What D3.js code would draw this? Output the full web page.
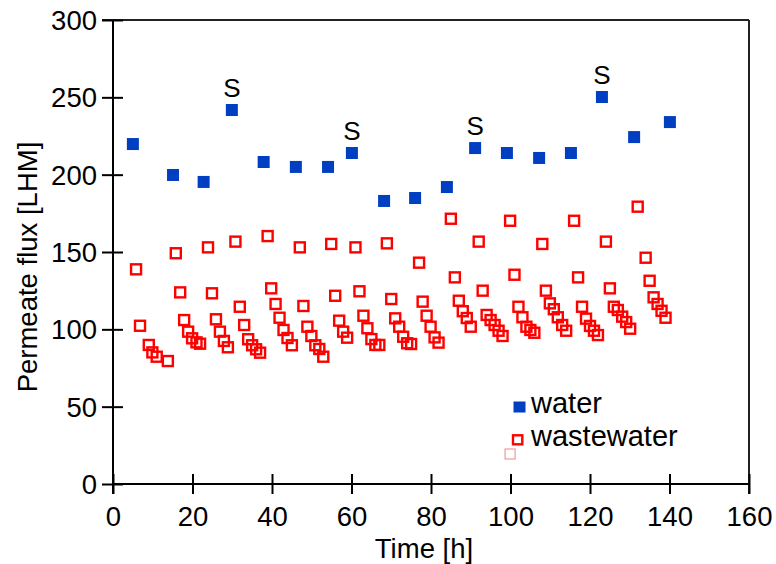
<!DOCTYPE html>
<html><head><meta charset="utf-8">
<script src="https://cdn.jsdelivr.net/npm/d3@7"></script>
<style>body{margin:0;background:#fff}svg{display:block}text{font-family:"Liberation Sans",Arial,sans-serif}</style>
</head><body><svg id="c" width="776" height="564"></svg>
<script>
const xTicks = [0,20,40,60,80,100,120,140,160];
const yTicks = [0,50,100,150,200,250,300];
const waterX = [5,15.1,22.8,29.9,37.9,46,54.1,60.1,68.2,76,84,91.1,99.1,107.2,115.2,123,131.1,140.1];
const waterY = [219.8,199.8,195.3,241.8,208.2,205,205,214,183,184.9,192,217.2,214,210.8,214,250.2,224.3,234];
const sLabelX = [29.9,60.1,91.1,123];
const wwX = [5.8,6.8,9,9.9,11,13.8,15.8,16.9,17.9,18.9,19.9,21,21.9,23.9,24.9,25.9,26.9,27.9,28.9,30.8,31.9,33,34,35,36,37,38.9,39.8,40.9,41.9,42.9,43.9,45,47,47.9,48.9,49.9,50.9,51.9,52.9,54.9,55.9,56.9,57.9,58.9,61,62,63,64,65,66,67,68.9,70,71,72,73,74,75,77,77.9,78.9,79.9,80.9,81.9,85,86,87,88,89,90,92,93,94,95,96,97,98,99.9,101,102,103,104,105,106,108,108.9,109.9,110.9,111.9,113,114,116,117,118,119,120,121,122,124,125,126,127,128.1,129.1,130.1,132,134,135,136,137,138,139];
const wwY = [138.8,102.3,89.9,85.1,82.3,79.5,149.2,123.9,106,98.5,94.2,91.6,90.7,153,123.3,106.5,98.5,92.5,88.4,156.7,114.6,102.8,93.6,89.7,87.1,84.9,160.3,126.5,116.4,107.5,99.6,94.4,89.7,153,115.1,101.7,95.7,89.7,87.3,82.3,155.2,121.7,105.6,98.5,94.6,153,124.6,108.8,100.7,93.7,89.9,89.9,155.6,119.6,107.1,101.7,95.2,91,90.5,143.1,117.9,108.8,101.7,94.8,91.4,171.5,133.6,118.5,111.7,107.3,101.7,156.7,125,109.3,106,102.8,99.1,95.7,170.2,135.3,114.6,107.8,101.7,99.6,97.8,155.2,125,116.8,113,107.8,102.8,99.1,170.2,133.6,114.6,106.9,102.2,99.1,96.3,156.7,126.5,114.6,112.5,108.2,104.7,100.4,179.3,146.3,131.4,120.7,116.4,112,107.5];
const ghostX = [99.9];
const ghostY = [19.4];
const legendLabels = ["water","wastewater"];

const svg = d3.select("#c");
const x = d3.scaleLinear().domain([0,160]).range([113,749]);
const y = d3.scaleLinear().domain([0,300]).range([484,20]);
const blue = "#003fc1", red = "#ff0000";
const FF = "Liberation Sans, Arial, sans-serif";

// frame: top and right
svg.append("line").attr("x1",102).attr("x2",x(160)).attr("y1",y(300)).attr("y2",y(300)).attr("stroke","#222").attr("stroke-width",2);
svg.append("line").attr("x1",x(160)).attr("x2",x(160)).attr("y1",y(300)).attr("y2",y(0)+10).attr("stroke","#222").attr("stroke-width",2);

// x axis
const xAxis = d3.axisBottom(x).tickValues(xTicks).tickSize(0).tickPadding(0);
const gx = svg.append("g").attr("transform",`translate(0,${y(0)})`).call(xAxis);
gx.select(".domain").attr("stroke","#000").attr("stroke-width",2).attr("d",`M${x(0)},0H${x(160)}`);
gx.selectAll(".tick line").attr("y1",-10).attr("y2",10).attr("stroke","#000").attr("stroke-width",2);
gx.selectAll(".tick text").attr("font-size",27.5).attr("fill","#000").attr("y",22).attr("dy","0.71em").attr("font-family",FF);

// y axis
const yAxis = d3.axisLeft(y).tickValues(yTicks).tickSize(0).tickPadding(0);
const gy = svg.append("g").attr("transform",`translate(${x(0)},0)`).call(yAxis);
gy.select(".domain").attr("stroke","#000").attr("stroke-width",2).attr("d",`M0,${y(300)}V${y(0)+10}`);
gy.selectAll(".tick line").attr("x1",-11).attr("x2",10).attr("stroke","#000").attr("stroke-width",2);
gy.selectAll(".tick text").attr("font-size",27.5).attr("fill","#000").attr("x",-16).attr("dy","0.35em").attr("font-family",FF);

// titles
svg.append("text").attr("x",424).attr("y",558).attr("text-anchor","middle").attr("font-size",27.5).text("Time [h]");
svg.append("text").attr("transform",`translate(37,267) rotate(-90)`).attr("text-anchor","middle").attr("font-size",27.5).text("Permeate flux [LHM]");

// water points
const ws = 12;
svg.append("g").selectAll("rect").data(waterX).join("rect")
  .attr("x",d=>x(d)-ws/2).attr("y",(d,i)=>y(waterY[i])-ws/2).attr("width",ws).attr("height",ws).attr("fill",blue);

// S labels
svg.append("g").selectAll("text").data(sLabelX).join("text")
  .attr("x",d=>x(d)).attr("y",d=>y(waterY[waterX.indexOf(d)])-13).attr("text-anchor","middle").attr("font-size",26).text("S");

// wastewater
const rs = 10;
svg.append("g").selectAll("rect").data(wwX).join("rect")
  .attr("x",d=>x(d)-rs/2).attr("y",(d,i)=>y(wwY[i])-rs/2).attr("width",rs).attr("height",rs)
  .attr("fill","none").attr("stroke",red).attr("stroke-width",2.4);

// ghost square
svg.append("g").selectAll("rect").data(ghostX).join("rect")
  .attr("x",d=>x(d)-5).attr("y",(d,i)=>y(ghostY[i])-5).attr("width",10).attr("height",10)
  .attr("fill","none").attr("stroke","#f4a0a0").attr("stroke-width",1.3);

// legend
const lg = svg.append("g");
lg.append("rect").attr("x",513.5).attr("y",401.5).attr("width",12).attr("height",11).attr("fill",blue);
lg.append("rect").attr("x",513).attr("y",435.3).attr("width",9.3).attr("height",9).attr("fill","none").attr("stroke",red).attr("stroke-width",2.4);
lg.selectAll("text.l").data(legendLabels).join("text").attr("class","l")
  .attr("x",531).attr("y",(d,i)=>413+i*32.5).attr("font-size",29).text(d=>d);
</script></body></html>
